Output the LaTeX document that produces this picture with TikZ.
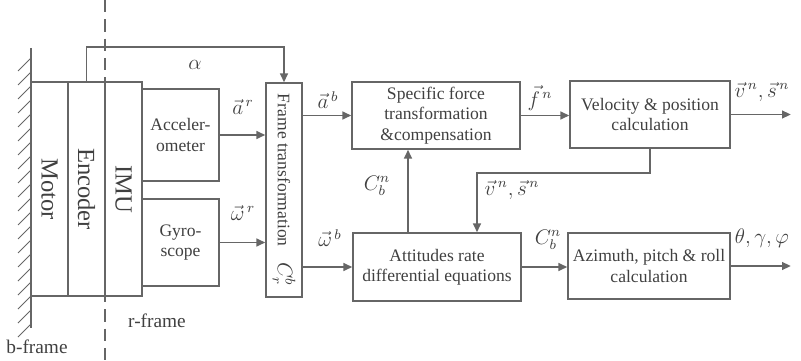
\documentclass[tikz,border=0pt]{standalone}
\usepackage{fontspec}
\setmainfont{Liberation Serif}
\usetikzlibrary{arrows.meta, positioning, calc}

\tikzset{
  blk/.style={draw=black!60, line width=0.9pt, inner sep=1pt, align=center,
    font=\fontsize{10}{11.5}\selectfont, text=black!75},
  flow/.style={draw=black!60, line width=0.9pt, -{Triangle[length=5pt,width=4.5pt]}},
  sym/.style={font=\fontsize{12}{14}\selectfont, text=black!75},
  big/.style={font=\fontsize{14}{16}\selectfont},
}

\begin{document}
\begin{tikzpicture}[x=0.02cm, y=-0.02cm]
\useasboundingbox (0,0) rectangle (801,361);

% Fixed wall
\draw[black!60, line width=0.9pt] (31,48) -- (31,328);
\foreach \y in {58,72,...,324}
  \draw[black!60, line width=0.6pt] (31,\y) -- (18,\y+13);

% Motor, encoder and IMU stack
\node[blk, big, minimum width=0.74cm, minimum height=4.28cm] (motor) at (49.5,189) {\rotatebox{-90}{Motor}};
\node[blk, big, minimum width=0.74cm, minimum height=4.28cm] (enc) at (86.5,189) {\rotatebox{-90}{Encoder}};
\node[blk, big, minimum width=0.74cm, minimum height=4.28cm] (imu) at (123.5,189) {\rotatebox{-90}{IMU}};

% Frame border
\draw[black!60, line width=1pt, dash pattern=on 7pt off 4pt] (105,0) -- (105,361);

% Sensors
\node[blk, minimum width=1.54cm, minimum height=1.84cm] (acc) at (180.5,135) {Acceler-\\ometer};
\node[blk, minimum width=1.54cm, minimum height=1.74cm] (gyro) at (180.5,242.5) {Gyro-\\scope};

% Frame transformation
\node[blk, minimum width=0.72cm, minimum height=4.28cm] (frame) at (284,190)
  {\rotatebox{-90}{Frame transformation\hspace{0.9em}{\fontsize{12}{14}\selectfont$C_r^b$}}};

% Navigation blocks
\node[blk, minimum width=3.36cm, minimum height=1.34cm] (sf) at (436,115.5) {Specific force\\transformation\\\&compensation};
\node[blk, minimum width=3.36cm, minimum height=1.36cm] (att) at (437,267) {Attitudes rate\\differential equations};
\node[blk, minimum width=3.2cm, minimum height=1.34cm] (vel) at (650,114.5) {Velocity \& position\\calculation};
\node[blk, minimum width=3.24cm, minimum height=1.32cm] (azi) at (649,266) {Azimuth, pitch \& roll\\calculation};

% Free ends and branch points
\coordinate (cb) at ($(att.north)+(-29,0)$);
\coordinate (fb) at ($(att.north)+(40,0)$);
\coordinate (vout) at ($(vel.east)+(60,0)$);
\coordinate (aout) at ($(azi.east)+(60,0)$);

% Connectors
\draw[flow] (enc.north) -- ++(0,-34) -| (frame.north);
\draw[flow] (acc.east) -- (acc.east -| frame.west);
\draw[flow] (gyro.east) -- (gyro.east -| frame.west);
\draw[flow] (sf.west -| frame.east) -- (sf.west);
\draw[flow] (att.west -| frame.east) -- (att.west);
\draw[flow] (cb) -- (cb |- sf.south);
\draw[flow] (sf.east) -- (sf.east -| vel.west);
\draw[flow] (vel.east) -- (vout);
\draw[flow] (vel.south) -- ++(0,24) -| (fb);
\draw[flow] (att.east) -- (att.east -| azi.west);
\draw[flow] (azi.east) -- (aout);

% Signal labels
\node[sym] (alpha) at (195,65) {$\alpha$};
\node[sym] (ar) at (243,107) {$\vec{a}^{\,r}$};
\node[sym] (wr) at (243,213) {$\vec{\omega}^{\,r}$};
\node[sym] (ab) at (328,100) {$\vec{a}^{\,b}$};
\node[sym] (wb) at (330,238) {$\vec{\omega}^{\,b}$};
\node[sym] (cbn1) at (377,186) {$C_b^n$};
\node[sym] (fn) at (540,98) {$\vec{f}^{\,n}$};
\node[sym] (vs1) at (762,92) {$\vec{v}^{\,n},\vec{s}^{\,n}$};
\node[sym] (vs2) at (512,190) {$\vec{v}^{\,n},\vec{s}^{\,n}$};
\node[sym] (cbn2) at (548,240) {$C_b^n$};
\node[sym] (ang) at (762,238) {$\theta,\gamma,\varphi$};

% Frame names
\node[font=\fontsize{11}{13}\selectfont, text=black!75] (rfr) at (157,321) {r-frame};
\node[font=\fontsize{11}{13}\selectfont, text=black!75] (bfr) at (37,347) {b-frame};
\end{tikzpicture}
\end{document}
